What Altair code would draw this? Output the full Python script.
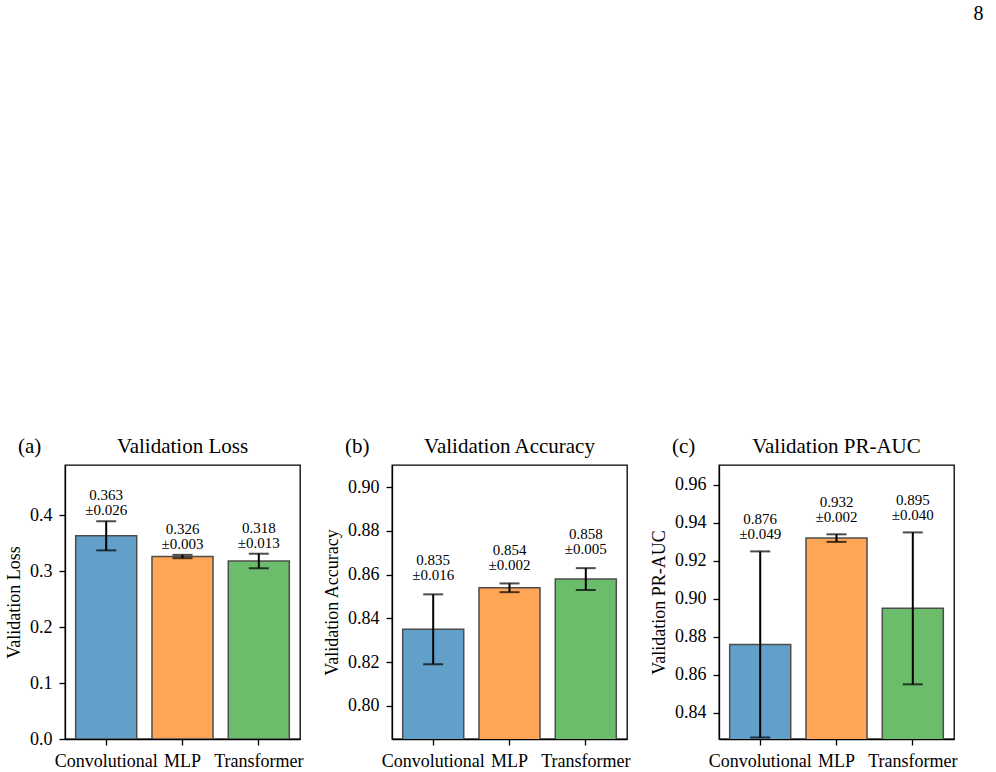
import altair as alt
import pandas as pd

FONT = "Liberation Serif"

models = ["Convolutional", "MLP", "Transformer"]
colors = ["#62a0ca", "#ffa556", "#6bbc6b"]

loss_mean = [0.363, 0.326, 0.318]
loss_std = [0.026, 0.003, 0.013]
acc_mean = [0.835, 0.854, 0.858]
acc_std = [0.016, 0.002, 0.005]
prauc_mean = [0.876, 0.932, 0.895]
prauc_std = [0.049, 0.002, 0.040]

panel_letters = ["(a)", "(b)", "(c)"]
panel_titles = ["Validation Loss", "Validation Accuracy", "Validation PR-AUC"]
y_titles = ["Validation Loss", "Validation Accuracy", "Validation PR-AUC"]
y_domains = [[0.0, 0.4895], [0.7848, 0.9102], [0.8262, 0.9705]]
y_ticks = [
    [0.0, 0.1, 0.2, 0.3, 0.4],
    [0.80, 0.82, 0.84, 0.86, 0.88, 0.90],
    [0.84, 0.86, 0.88, 0.90, 0.92, 0.94, 0.96],
]
y_formats = [".1f", ".2f", ".2f"]
label_offset = 0.005
page_number = "8"

W, H = 235, 274


def panel(means, stds, letter, title, ytitle, domain, ticks, fmt):
    df = pd.DataFrame({"model": models, "mean": means, "std": stds})
    df["lo"] = df["mean"] - df["std"]
    df["hi"] = df["mean"] + df["std"]
    df["label_y"] = df["hi"] + label_offset
    df["label"] = [f"{m:.3f}\n±{s:.3f}" for m, s in zip(means, stds)]

    x = alt.X(
        "model:N",
        sort=models,
        title=None,
        scale=alt.Scale(paddingInner=0.2, paddingOuter=0.14),
        axis=alt.Axis(labelAngle=0),
    )
    yscale = alt.Scale(domain=domain, nice=False, zero=False)
    base = alt.Chart(df)

    bars = base.mark_bar(stroke="#4d4d4d", strokeWidth=1.5, clip=True).encode(
        x=x,
        y=alt.Y("mean:Q", scale=yscale, title=ytitle,
                axis=alt.Axis(values=ticks, format=fmt)),
        color=alt.Color("model:N", scale=alt.Scale(domain=models, range=colors), legend=None),
    )
    err = base.mark_rule(color="black", strokeWidth=2).encode(
        x=x,
        y=alt.Y("lo:Q", title=ytitle),
        y2="hi:Q",
    )
    cap_hi = base.mark_tick(color="black", thickness=2, size=20).encode(
        x=x, y=alt.Y("hi:Q", title=ytitle)
    )
    cap_lo = base.mark_tick(color="black", thickness=2, size=20).encode(
        x=x, y=alt.Y("lo:Q", title=ytitle)
    )
    labels = base.mark_text(
        baseline="bottom", lineBreak="\n", fontSize=15, lineHeight=15,
        font=FONT, color="black", dy=-15,
    ).encode(x=x, y=alt.Y("label_y:Q", title=ytitle), text="label:N")

    head = pd.DataFrame({"letter": [letter], "title": [title]})
    letter_mark = alt.Chart(head).mark_text(
        align="left", baseline="middle", fontSize=21, font=FONT, color="black"
    ).encode(x=alt.value(-47), y=alt.value(-18), text="letter:N")
    title_mark = alt.Chart(head).mark_text(
        align="center", baseline="middle", fontSize=21, font=FONT, color="black"
    ).encode(x=alt.value(W / 2), y=alt.value(-18), text="title:N")

    return alt.layer(bars, err, cap_hi, cap_lo, labels, letter_mark, title_mark).properties(
        width=W,
        height=H,
    )


panels = []
data = [(loss_mean, loss_std), (acc_mean, acc_std), (prauc_mean, prauc_std)]
for i, (m, s) in enumerate(data):
    panels.append(panel(m, s, panel_letters[i], panel_titles[i], y_titles[i],
                        y_domains[i], y_ticks[i], y_formats[i]))

chart = alt.hconcat(*panels, spacing=18).properties(
    title=alt.TitleParams(page_number, anchor="end", fontSize=20, font=FONT,
                          fontWeight="normal", color="black", offset=411, dx=26),
    padding={"left": 4, "top": 4, "right": 5, "bottom": 4},
).configure_view(
    stroke="black", strokeWidth=1.3
).configure_axis(
    domainColor="black", domainWidth=1.3, tickColor="black", tickWidth=1.3,
    tickSize=6, labelFont=FONT, labelFontSize=18, labelColor="black",
    titleFont=FONT, titleFontSize=18, titleFontWeight="normal", titleColor="black",
    grid=False, labelPadding=7, titlePadding=6,
)

chart.save("out.html", embed_options={"renderer": "svg", "actions": False})
